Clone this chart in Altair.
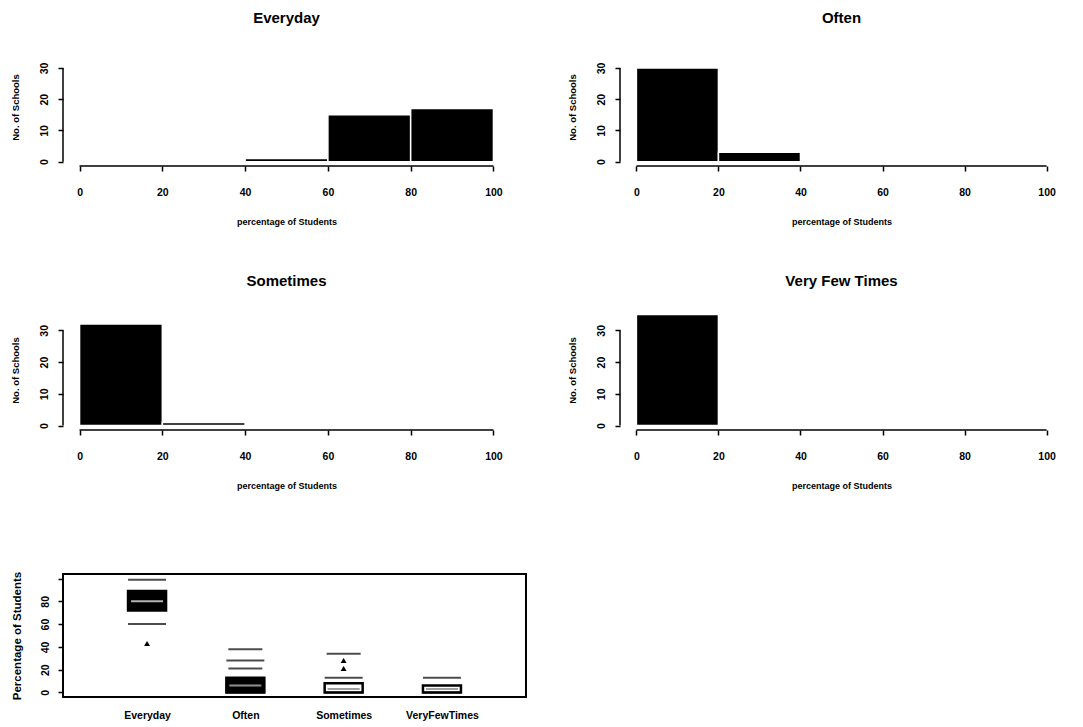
import altair as alt
import pandas as pd

# Histogram bins (percentage of students) and school counts per panel
bin_edges = [0, 20, 40, 60, 80, 100]
everyday_counts = [0, 0, 1, 15, 17]
often_counts = [30, 3, 0, 0, 0]
sometimes_counts = [32, 1, 0, 0, 0]
very_few_counts = [35, 0, 0, 0, 0]

hist_x_ticks = [0, 20, 40, 60, 80, 100]
hist_y_ticks = [0, 10, 20, 30]

# Box plot summaries
box_categories = ["Everyday", "Often", "Sometimes", "VeryFewTimes"]
box_q1 = [72, 0, 0, 0]
box_median = [80, 6, 3, 3]
box_q3 = [89, 13, 8, 6]
box_lower = [60, 0, 0, 0]
box_upper = [99, 28, 13, 13]
outlier_cats = ["Everyday", "Sometimes", "Sometimes"]
outlier_values = [43, 28, 21]
extra_line_cats = ["Often", "Often", "Sometimes"]
extra_line_values = [38, 21, 34]
box_y_ticks = [0, 20, 40, 60, 80, 100]

FONT = "Liberation Sans"


def histogram(title, counts, width, height, title_offset):
    df = pd.DataFrame({"start": bin_edges[:-1], "end": bin_edges[1:],
                       "count": counts, "zero": 0})
    df = df[df["count"] > 0]
    xs = alt.Scale(domain=[-4, 104], nice=False, zero=False)
    ys = alt.Scale(domain=[-1.4, 36.4], nice=False, zero=False)
    x_axis = alt.Axis(values=hist_x_ticks, title="percentage of Students", format="d",
                      domain=False, grid=False, tickSize=5, labelPadding=16,
                      titlePadding=20, labelFlush=False, labelOverlap=False)
    y_axis = alt.Axis(values=hist_y_ticks, title="No. of Schools", labelAngle=270,
                      domain=False, grid=False, tickSize=5, labelPadding=9,
                      titlePadding=19, titleFontSize=9.5, labelFlush=False, labelOverlap=False)

    bars = alt.Chart(df).mark_bar(color="black", stroke="white", strokeWidth=1.5).encode(
        x=alt.X("start:Q", scale=xs, axis=x_axis),
        x2="end:Q",
        y=alt.Y("zero:Q", scale=ys, axis=y_axis),
        y2="count:Q",
    )
    # axis lines span only the labelled tick range
    x_line = alt.Chart(pd.DataFrame({"a": [min(hist_x_ticks)], "b": [max(hist_x_ticks)]})).mark_rule(
        color="black", strokeWidth=1.5).encode(
        x=alt.X("a:Q", scale=xs, axis=x_axis), x2="b:Q", y=alt.value(height))
    y_line = alt.Chart(pd.DataFrame({"a": [min(hist_y_ticks)], "b": [max(hist_y_ticks)]})).mark_rule(
        color="black", strokeWidth=1.5).encode(
        y=alt.Y("a:Q", scale=ys, axis=y_axis), y2="b:Q", x=alt.value(0))

    return alt.layer(bars, x_line, y_line).properties(
        width=width, height=height,
        title=alt.TitleParams(title, fontSize=15, font=FONT, fontWeight="bold",
                              anchor="middle", offset=title_offset, color="black"),
    )


def boxplot(width, height):
    df = pd.DataFrame({"cat": box_categories, "q1": box_q1, "med": box_median,
                       "q3": box_q3, "lo": box_lower, "hi": box_upper})
    out_df = pd.DataFrame({"cat": outlier_cats, "v": outlier_values})
    line_df = pd.DataFrame({"cat": extra_line_cats, "v": extra_line_values})

    xs = alt.Scale(type="point", domain=box_categories, padding=0.855)
    ys = alt.Scale(domain=[-4, 104], nice=False, zero=False)
    x_axis = alt.Axis(title=None, ticks=False, domain=False, labelAngle=0, labelPadding=13,
                      labelFontSize=10.5, grid=False)
    y_axis = alt.Axis(values=box_y_ticks, title="Percentage of Students", labelAngle=270,
                      labelExpr="datum.value == 100 ? '' : datum.label",
                      domain=False, grid=False, tickSize=5, labelPadding=8,
                      titlePadding=18, titleFontSize=11.5, labelFlush=False, labelOverlap=False)

    def xe():
        return alt.X("cat:N", scale=xs, sort=box_categories, axis=x_axis)

    def ye(field):
        return alt.Y(field, scale=ys, axis=y_axis)

    boxes = alt.Chart(df).mark_bar(size=38, stroke="black", strokeWidth=2.5).encode(
        x=xe(), y=ye("q1:Q"), y2="q3:Q",
        fill=alt.Fill("cat:N", scale=alt.Scale(domain=box_categories,
                                               range=["black", "black", "white", "white"]),
                      legend=None),
    )
    medians = alt.Chart(df).mark_tick(size=32, thickness=2).encode(
        x=xe(), y=ye("med:Q"),
        color=alt.Color("cat:N", scale=alt.Scale(domain=box_categories,
                                                 range=["white", "#cccccc", "#777777", "#777777"]),
                        legend=None),
    )
    low_caps = alt.Chart(df).mark_tick(size=38, thickness=2, color="black").encode(
        x=xe(), y=ye("lo:Q"))
    high_caps = alt.Chart(df).mark_tick(size=38, thickness=2, color="black").encode(
        x=xe(), y=ye("hi:Q"))
    extra_lines = alt.Chart(line_df).mark_tick(size=34, thickness=2, color="black").encode(
        x=xe(), y=ye("v:Q"))
    outliers = alt.Chart(out_df).mark_point(shape="triangle-up", filled=True, size=35,
                                             color="black", opacity=1).encode(
        x=xe(), y=ye("v:Q"))

    return alt.layer(boxes, medians, low_caps, high_caps, extra_lines, outliers).properties(
        width=width, height=height,
        view=alt.ViewBackground(stroke="black", strokeWidth=2),
    )


panels = [
    histogram("Everyday", everyday_counts, 447, 118, 22),
    histogram("Often", often_counts, 443, 118, 22),
    histogram("Sometimes", sometimes_counts, 447, 120, 21),
    histogram("Very Few Times", very_few_counts, 443, 120, 21),
    boxplot(463, 123),
]

chart = alt.ConcatChart(
    concat=panels, columns=2, spacing={"row": 144, "column": 94},
    bounds="flush", align="each",
).properties(
    padding={"left": 9, "top": 11, "right": 0, "bottom": 0},
).configure(background="white").configure_view(stroke=None).configure_axis(
    labelFont=FONT, labelFontWeight="bold", labelFontSize=10.5, labelColor="black",
    titleFont=FONT, titleFontWeight="bold", titleFontSize=9, titleColor="black",
    tickColor="black", tickWidth=1.5,
)

chart.save("out.html", embed_options={"renderer": "svg", "actions": False})
